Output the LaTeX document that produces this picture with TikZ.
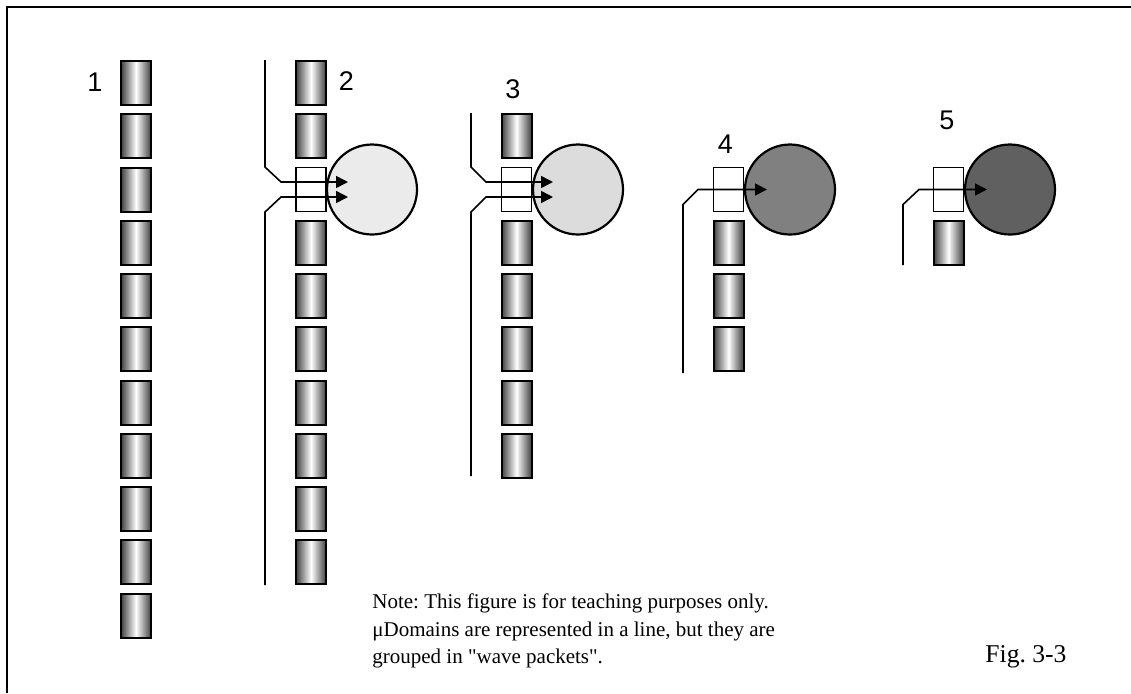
\documentclass[tikz,border=0pt]{standalone}
\usepackage{fontspec}
\setmainfont{Liberation Serif}
\newfontfamily\arial{Liberation Sans}
\usepackage{tikz}
\usetikzlibrary{shapes,arrows.meta}
\frenchspacing
\definecolor{ball2}{HTML}{EBEBEB}
\definecolor{ball3}{HTML}{DCDCDC}
\definecolor{ball4}{HTML}{808080}
\definecolor{ball5}{HTML}{606060}
\tikzset{dom/.style={rectangle,draw,line width=1pt,minimum width=15pt,minimum height=22pt,inner sep=0pt,left color=black!75,right color=black!75,middle color=white}}
\tikzset{gate/.style={rectangle,draw,fill=white,line width=0.8pt,minimum width=15pt,minimum height=22pt,inner sep=0pt}}
\tikzset{ball/.style={circle,draw,line width=1.1pt,minimum size=45pt,inner sep=0pt}}
\tikzset{num/.style={inner sep=0pt,font=\arial\fontsize{13.5}{16}\selectfont}}
\tikzset{wire/.style={line width=0.8pt}}

\begin{document}
\begin{tikzpicture}[x=0.5pt,y=-0.5pt,>={Triangle[length=6pt,width=6pt]}]
    \useasboundingbox (0,0) rectangle (1131,693);
    \draw [line width=1pt] (7,693) -- (7,7) -- (1131,7);

    \node[ball,fill=ball2] (s2) at (372,189.5) {};
    \node[ball,fill=ball3] (s3) at (578,189.5) {};
    \node[ball,fill=ball4] (s4) at (790,189.5) {};
    \node[ball,fill=ball5] (s5) at (1010,189.5) {};

    % column 1
    \node[dom] (a1) at (136,83) {};
    \node[dom] (a2) at (136,136.3) {};
    \node[dom] (a3) at (136,189.5) {};
    \node[dom] (a4) at (136,242.8) {};
    \node[dom] (a5) at (136,296) {};
    \node[dom] (a6) at (136,349.3) {};
    \node[dom] (a7) at (136,402.5) {};
    \node[dom] (a8) at (136,455.8) {};
    \node[dom] (a9) at (136,509) {};
    \node[dom] (a10) at (136,562.3) {};
    \node[dom] (a11) at (136,615.5) {};

    % column 2
    \node[dom] (b1) at (311,83) {};
    \node[dom] (b2) at (311,136.3) {};
    \node[gate] (g2) at (311,189.5) {};
    \node[dom] (b4) at (311,242.8) {};
    \node[dom] (b5) at (311,296) {};
    \node[dom] (b6) at (311,349.3) {};
    \node[dom] (b7) at (311,402.5) {};
    \node[dom] (b8) at (311,455.8) {};
    \node[dom] (b9) at (311,509) {};
    \node[dom] (b10) at (311,562.3) {};

    % column 3
    \node[dom] (c2) at (516.5,136.3) {};
    \node[gate] (g3) at (516.5,189.5) {};
    \node[dom] (c4) at (516.5,242.8) {};
    \node[dom] (c5) at (516.5,296) {};
    \node[dom] (c6) at (516.5,349.3) {};
    \node[dom] (c7) at (516.5,402.5) {};
    \node[dom] (c8) at (516.5,455.8) {};

    % column 4
    \node[gate] (g4) at (728.5,189.5) {};
    \node[dom] (d4) at (728.5,242.8) {};
    \node[dom] (d5) at (728.5,296) {};
    \node[dom] (d6) at (728.5,349.3) {};

    % column 5
    \node[gate] (g5) at (948.5,189.5) {};
    \node[dom] (e4) at (948.5,242.8) {};

    \node[num] (l1) at (95,82) {1};
    \node[num] (l2) at (346.5,81.5) {2};
    \node[num] (l3) at (513,89) {3};
    \node[num] (l4) at (725.5,144) {4};
    \node[num] (l5) at (947,120) {5};

    \coordinate (top2) at (265,60);
    \coordinate (bot2) at (265,585);
    \coordinate (tip2a) at (348,182);
    \coordinate (tip2b) at (348,197);
    \coordinate (top3) at (471,113);
    \coordinate (bot3) at (471,476);
    \coordinate (tip3a) at (553,182);
    \coordinate (tip3b) at (553,197);
    \coordinate (bot4) at (683,373);
    \coordinate (tip4) at (767,189.5);
    \coordinate (bot5) at (903,265);
    \coordinate (tip5) at (987,189.5);

    \draw [wire,->] (top2) -- ++(0,107) -- ++(16,15) -- (tip2a);
    \draw [wire,->] (bot2) -- ++(0,-373) -- ++(16,-15) -- (tip2b);
    \draw [wire,->] (top3) -- ++(0,54) -- ++(15,15) -- (tip3a);
    \draw [wire,->] (bot3) -- ++(0,-264) -- ++(15,-15) -- (tip3b);
    \draw [wire,->] (bot4) -- ++(0,-168.5) -- ++(15,-15) -- (tip4);
    \draw [wire,->] (bot5) -- ++(0,-60.5) -- ++(16,-15) -- (tip5);

    \node[anchor=north west,inner sep=0pt,align=left,font=\fontsize{10.5}{13.75}\selectfont] (note) at (372,593.5)
        {Note: This figure is for teaching purposes only.\\
         μDomains are represented in a line, but they are\\
         grouped in \textquotedbl wave packets\textquotedbl.};
    \node[anchor=base west,inner sep=0pt,font=\fontsize{12.8}{15}\selectfont] (fig) at (985,662) {Fig. 3-3};
\end{tikzpicture}
\end{document}
